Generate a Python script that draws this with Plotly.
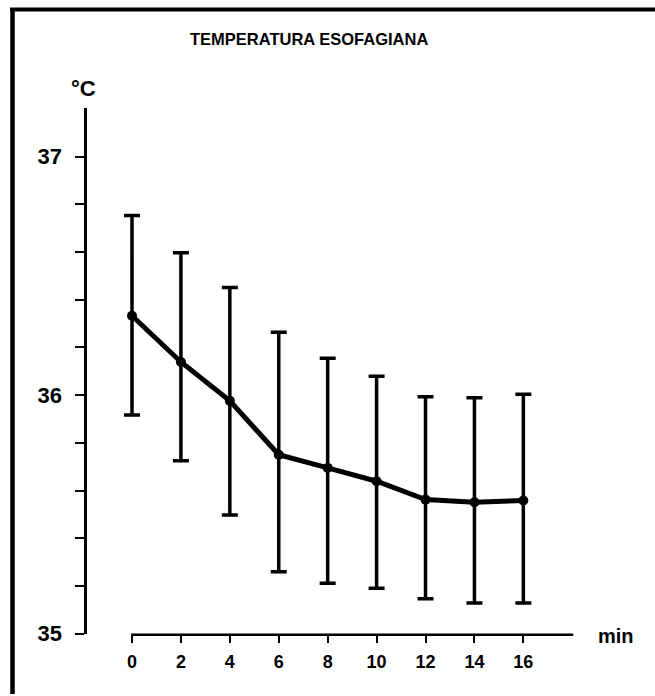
import plotly.graph_objects as go

# Data
minutes = [0, 2, 4, 6, 8, 10, 12, 14, 16]
temp_mean = [36.333, 36.139, 35.976, 35.75, 35.695, 35.639, 35.562, 35.551, 35.558]
temp_upper = [36.753, 36.597, 36.451, 36.264, 36.155, 36.079, 35.993, 35.989, 36.004]
temp_lower = [35.917, 35.725, 35.497, 35.26, 35.211, 35.19, 35.146, 35.129, 35.129]

x_ticks = [0, 2, 4, 6, 8, 10, 12, 14, 16]
x_ticklabels = [str(v) for v in x_ticks]
y_ticks = [35 + 0.2 * i for i in range(11)]
y_ticklabels = ["35", "", "", "", "", "36", "", "", "", "", "37"]
x_axis_span = [-0.04, 18.04]

title_text = "TEMPERATURA ESOFAGIANA"
y_unit = "°C"
x_unit = "min"

W, H = 655, 707
REF_H = 696
FONT = "Liberation Sans"

err_plus = [u - m for u, m in zip(temp_upper, temp_mean)]
err_minus = [m - l for m, l in zip(temp_mean, temp_lower)]

px_x = lambda p: p / W
px_y = lambda p: 1 - p / REF_H

# x scale: 0 min at 132 px, 24.46 px per minute
PPM = 24.46
X0PX = 132.0
dom_l, dom_r = 112.0, 600.0
x_range = [-(X0PX - dom_l) / PPM, (dom_r - X0PX) / PPM]
x_axis_y = px_y(636.5)

fig = go.Figure()
fig.add_trace(go.Scatter(
    x=minutes, y=temp_mean, mode="lines+markers",
    line=dict(color="black", width=5),
    marker=dict(color="black", size=10),
    error_y=dict(type="data", symmetric=False, array=err_plus, arrayminus=err_minus,
                 color="black", thickness=3.5, width=8),
    showlegend=False, cliponaxis=False,
))

fig.update_layout(
    width=W, height=H, autosize=False,
    margin=dict(l=0, r=0, t=0, b=0),
    paper_bgcolor="white", plot_bgcolor="white",
    xaxis=dict(
        domain=[px_x(dom_l), px_x(dom_r)],
        range=x_range,
        anchor="free", position=x_axis_y,
        showline=False,
        showgrid=False, zeroline=False,
        tickmode="array", tickvals=x_ticks, ticktext=x_ticklabels,
        ticks="outside", ticklen=7, tickwidth=2, tickcolor="black",
        tickfont=dict(family=FONT, size=18, color="black", weight="bold"),
        ticklabelstandoff=4,
    ),
    yaxis=dict(
        domain=[px_y(635.5), px_y(108)],
        range=[35, 37.205],
        anchor="free", position=px_x(84.5),
        showline=True, linecolor="black", linewidth=3,
        showgrid=False, zeroline=False,
        tickmode="array", tickvals=y_ticks, ticktext=y_ticklabels,
        ticks="outside", ticklen=9, tickwidth=2, tickcolor="black",
        tickfont=dict(family=FONT, size=22, color="black", weight="bold"),
        ticklabelstandoff=8,
    ),
    shapes=[
        # x axis line (0 .. 18 min)
        dict(type="line", xref="x", yref="paper",
             x0=x_axis_span[0], x1=x_axis_span[1], y0=x_axis_y, y1=x_axis_y,
             line=dict(color="black", width=2.5)),
        # frame
        dict(type="line", xref="paper", yref="paper",
             x0=px_x(10), x1=1.0, y0=px_y(9.5), y1=px_y(9.5),
             line=dict(color="black", width=4)),
        dict(type="line", xref="paper", yref="paper",
             x0=px_x(12.5), x1=px_x(12.5), y0=px_y(8), y1=0,
             line=dict(color="black", width=4.5)),
    ],
    annotations=[
        dict(text=title_text, xref="paper", yref="paper",
             x=px_x(309), y=px_y(39), xanchor="center", yanchor="middle",
             showarrow=False,
             font=dict(family=FONT, size=16.5, color="black", weight="bold")),
        dict(text=y_unit, xref="paper", yref="paper",
             x=px_x(83), y=px_y(89), xanchor="center", yanchor="middle",
             showarrow=False,
             font=dict(family=FONT, size=22, color="black", weight="bold")),
        dict(text=x_unit, xref="paper", yref="paper",
             x=px_x(616), y=px_y(638), xanchor="center", yanchor="middle",
             showarrow=False,
             font=dict(family=FONT, size=20, color="black", weight="bold")),
    ],
)

fig.write_html(
    "out.html",
    config={"displayModeBar": False, "responsive": False},
    post_script="document.body.style.margin='0';document.body.style.overflow='hidden';",
)
